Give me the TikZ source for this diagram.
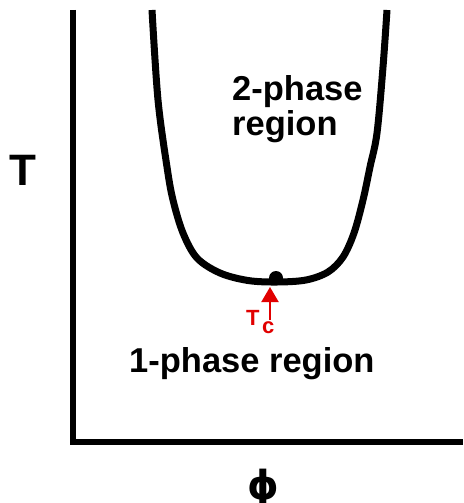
\documentclass[tikz,border=0pt]{standalone}
\usepackage{fontspec}
\setmainfont{Liberation Sans}
\newfontfamily\phifont{DejaVu Sans}
\usetikzlibrary{arrows.meta}
\definecolor{tcred}{RGB}{225,0,0}
\tikzset{
  axisline/.style={line width=6.5pt},
  curveline/.style={line width=7pt, line join=round},
  lbl/.style={font=\bfseries\fontsize{34.5}{36}\selectfont, inner sep=0pt},
}
\begin{document}
\begin{tikzpicture}[x=1pt,y=-1pt]
\useasboundingbox (0,0) rectangle (463,503);
% axes
\coordinate (ytop) at (73,10);
\coordinate (origin) at (73,442);
\coordinate (xend) at (463,442);
\draw[axisline] (ytop) -- (origin) -- (xend);
% coexistence curve
\draw[curveline] plot[smooth, tension=0.55] coordinates {
 (152,10) (158,100) (167,167) (173,200) (183,233) (197,258) (220,273) (248,280.5) (277,282)
 (306,280) (328,272) (343,257) (354,233) (363,200) (370,167) (377,133) (383,67) (387,10)};
% critical point
\node[circle, fill=black, inner sep=0pt, minimum size=14pt] (cp) at (276,278) {};
% labels
\node[lbl, anchor=base west] (two1) at (232,100) {2-phase};
\node[lbl, anchor=base west] (two2) at (232,135) {region};
\node[lbl, anchor=base west] (one) at (129,372) {1-phase region};
\node[font=\bfseries\fontsize{44}{44}\selectfont, inner sep=0pt, anchor=base west] (T) at (9,185) {T};
\node[font=\phifont\bfseries\fontsize{40}{40}\selectfont, inner sep=0pt, anchor=base] (phi) at (263,499) {ϕ};
\node[font=\bfseries\fontsize{22}{22}\selectfont, text=tcred, inner sep=0pt, anchor=base west] (tc) at (246,325) {T\kern2.5pt\raisebox{-8pt}{c}};
\coordinate (arrtail) at (270,320);
\draw[tcred, line width=2pt, -{Triangle[width=17pt,length=15pt]}] (arrtail) -- (270,287);
\end{tikzpicture}
\end{document}
